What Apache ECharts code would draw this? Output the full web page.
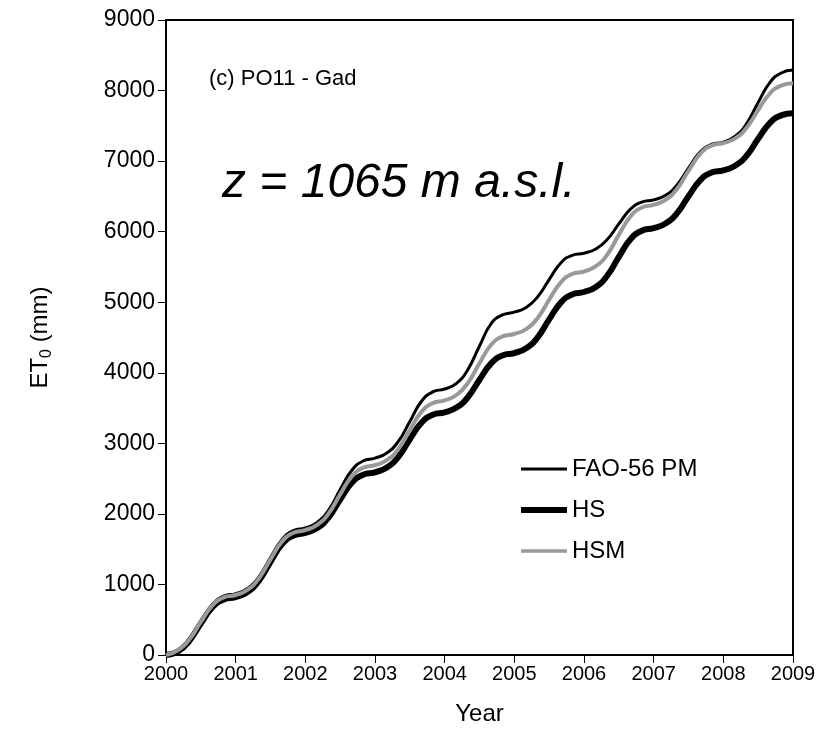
<!DOCTYPE html>
<html>
<head>
<meta charset="utf-8">
<script src="https://cdn.jsdelivr.net/npm/echarts@6/dist/echarts.min.js"></script>
<style>
html,body{margin:0;padding:0;background:#fff;}
#c{width:824px;height:750px;}
</style>
</head>
<body>
<div id="c"></div>
<script>
// time (decimal years)
var times = [
  2000, 2000.17, 2000.33, 2000.5, 2000.67, 2000.83,
  2001, 2001.17, 2001.33, 2001.5, 2001.67, 2001.83,
  2002, 2002.17, 2002.33, 2002.5, 2002.67, 2002.83,
  2003, 2003.17, 2003.33, 2003.5, 2003.67, 2003.83,
  2004, 2004.17, 2004.33, 2004.5, 2004.67, 2004.83,
  2005, 2005.17, 2005.33, 2005.5, 2005.67, 2005.83,
  2006, 2006.17, 2006.33, 2006.5, 2006.67, 2006.83,
  2007, 2007.17, 2007.33, 2007.5, 2007.67, 2007.83,
  2008, 2008.17, 2008.33, 2008.5, 2008.67, 2008.83,
  2009
];
var fao = [
  0, 70, 218, 479, 722, 835,
  870, 944, 1103, 1382, 1642, 1763,
  1800, 1879, 2048, 2345, 2622, 2750,
  2790, 2864, 3020, 3310, 3600, 3730,
  3770, 3850, 4040, 4380, 4700, 4820,
  4860, 4925, 5070, 5320, 5560, 5665,
  5695, 5755, 5884, 6110, 6322, 6420,
  6450, 6516, 6655, 6901, 7131, 7237,
  7270, 7352, 7525, 7831, 8117, 8249,
  8290
];
var hs = [
  0, 50, 195, 445, 681, 787,
  820, 893, 1048, 1321, 1575, 1694,
  1730, 1799, 1945, 2203, 2444, 2556,
  2590, 2658, 2803, 3058, 3296, 3406,
  3440, 3507, 3650, 3902, 4137, 4246,
  4280, 4349, 4496, 4756, 4998, 5110,
  5145, 5217, 5371, 5643, 5896, 6014,
  6050, 6116, 6255, 6501, 6731, 6837,
  6870, 6935, 7073, 7316, 7542, 7648,
  7680
];
var hsm = [
  0, 68, 213, 468, 706, 816,
  850, 924, 1080, 1356, 1614, 1733,
  1770, 1844, 2000, 2276, 2534, 2653,
  2690, 2762, 2914, 3190, 3450, 3570,
  3610, 3685, 3850, 4135, 4400, 4515,
  4550, 4620, 4770, 5035, 5285, 5400,
  5435, 5510, 5670, 5955, 6220, 6342,
  6380, 6450, 6599, 6861, 7106, 7220,
  7255, 7323, 7468, 7723, 7961, 8071,
  8105
];
var seriesNames = ['FAO-56 PM', 'HS', 'HSM'];

function pairs(vals){ return times.map(function(t,i){ return [t, vals[i]]; }); }
// legend line icons (46 x 20 box, bar of given thickness in the middle)
function barIcon(th){
  var y0 = 10 - th / 2, y1 = 10 + th / 2;
  return 'path://M0,0 L0.01,0 L0,0.01 Z M0,' + y0 + ' L46,' + y0 + ' L46,' + y1 + ' L0,' + y1 + ' Z M46,20 L45.99,20 L46,19.99 Z';
}

var FONT = "'Liberation Sans', Arial, sans-serif";
var chart = echarts.init(document.getElementById('c'), null, {renderer:'canvas'});
chart.setOption({
  animation: false,
  backgroundColor: '#fff',
  textStyle: {fontFamily: FONT, color: '#000'},
  grid: {left: 166, right: 31, top: 20, bottom: 95, show: true, borderColor: '#000', borderWidth: 2, backgroundColor: 'transparent'},
  xAxis: {
    type: 'value', min: 2000, max: 2009, interval: 1,
    name: 'Year', nameLocation: 'middle', nameGap: 47,
    nameTextStyle: {fontFamily: FONT, fontSize: 24, color: '#000'},
    axisLine: {show: true, lineStyle: {color: '#000', width: 2}},
    axisTick: {show: true, inside: false, length: 8, lineStyle: {color: '#000', width: 1}},
    axisLabel: {fontFamily: FONT, fontSize: 20, color: '#000', margin: 9, formatter: function(v){ return String(v); }},
    splitLine: {show: false}
  },
  yAxis: {
    type: 'value', min: 0, max: 9000, interval: 1000,
    name: '{a|ET}{b|0}{a| (mm)}', nameLocation: 'middle', nameGap: 111, nameRotate: 90,
    nameTextStyle: {rich: {a: {fontFamily: FONT, fontSize: 24, color: '#000'}, b: {fontFamily: FONT, fontSize: 16, color: '#000', padding: [14, 0, 0, 0]}}},
    axisLine: {show: true, lineStyle: {color: '#000', width: 2}},
    axisTick: {show: true, inside: false, length: 8, lineStyle: {color: '#000', width: 1}},
    axisLabel: {fontFamily: FONT, fontSize: 23, color: '#000', margin: 11, formatter: function(v){ return String(v); }},
    splitLine: {show: false}
  },
  legend: {
    orient: 'vertical', left: 516, top: 452, itemGap: 17, itemWidth: 46, itemHeight: 20,
    textStyle: {fontFamily: FONT, fontSize: 24, color: '#000', padding: [0,0,0,0]},
    data: [
      {name: seriesNames[0], icon: barIcon(3), itemStyle: {color: '#000'}},
      {name: seriesNames[1], icon: barIcon(6), itemStyle: {color: '#000'}},
      {name: seriesNames[2], icon: barIcon(3.5), itemStyle: {color: '#999'}}
    ]
  },
  graphic: [
    {type: 'text', left: 209, top: 68, style: {text: '(c) PO11 - Gad', font: '22px ' + FONT, fill: '#000'}},
    {type: 'text', left: 222, top: 160, style: {text: 'z = 1065 m a.s.l.', font: 'italic 48px ' + FONT, fill: '#000'}}
  ],
  series: [
    {name: seriesNames[0], type: 'line', data: pairs(fao), smooth: 0.5, symbol: 'none', showSymbol: false, z: 3,
     lineStyle: {color: '#000', width: 3}, itemStyle: {color: '#000'}},
    {name: seriesNames[1], type: 'line', data: pairs(hs), smooth: 0.5, symbol: 'none', showSymbol: false, z: 2,
     lineStyle: {color: '#000', width: 6}, itemStyle: {color: '#000'}},
    {name: seriesNames[2], type: 'line', data: pairs(hsm), smooth: 0.5, symbol: 'none', showSymbol: false, z: 4,
     lineStyle: {color: '#999', width: 4}, itemStyle: {color: '#999'}}
  ]
});
</script>
</body>
</html>
